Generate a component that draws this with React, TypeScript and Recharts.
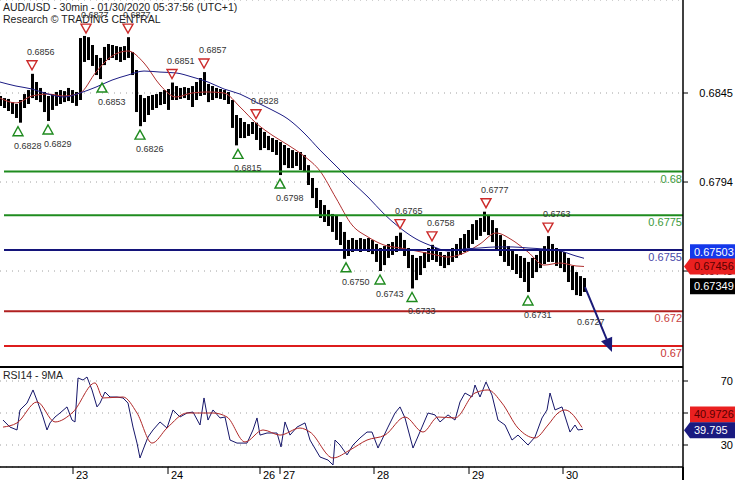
import React from 'react';
import {
  ComposedChart,
  Bar,
  Line,
  XAxis,
  YAxis,
  CartesianGrid,
  ReferenceLine,
  ReferenceDot
} from 'recharts';

const FONT = '"Liberation Sans", Arial, sans-serif';

// AUD/USD 30min, one entry per pair of bars (bar index = 2 * position)
const barHighs = [
  0.68433, 0.68421, 0.68416, 0.68398, 0.68387, 0.6841, 0.68444, 0.68467,
  0.6856, 0.68513, 0.68479, 0.68456, 0.68433, 0.68444, 0.68456, 0.68467,
  0.68461, 0.68479, 0.68467, 0.68456, 0.68765, 0.68777, 0.6877, 0.68725,
  0.68668, 0.68651, 0.68714, 0.68731, 0.68725, 0.68719, 0.68714, 0.68719,
  0.6877, 0.68685, 0.68582, 0.68439, 0.68421, 0.68433, 0.68439, 0.68444,
  0.68456, 0.68467, 0.68473, 0.6851, 0.6849, 0.68479, 0.68484, 0.68479,
  0.6849, 0.68513, 0.68536, 0.6857, 0.68502, 0.6849, 0.68479, 0.68473,
  0.68467, 0.68456, 0.6841, 0.68324, 0.68307, 0.68284, 0.68272, 0.68284,
  0.6828, 0.6825, 0.68227, 0.68204, 0.68192, 0.68181, 0.68169, 0.68152,
  0.68135, 0.68123, 0.68112, 0.68112, 0.68095, 0.68037, 0.67963, 0.67906,
  0.67837, 0.67808, 0.6778, 0.67757, 0.67751, 0.67711, 0.67654, 0.67608,
  0.67619, 0.67608, 0.67619, 0.67613, 0.67619, 0.67608, 0.67585, 0.67562,
  0.67573, 0.67585, 0.67596, 0.67631, 0.6765, 0.67608, 0.67562, 0.67522,
  0.67505, 0.67516, 0.67539, 0.67562, 0.6758, 0.67562, 0.67539, 0.67522,
  0.67539, 0.67562, 0.67585, 0.67619, 0.67642, 0.67665, 0.67699, 0.67722,
  0.67734, 0.6777, 0.67751, 0.67722, 0.67676, 0.67636, 0.67608, 0.67573,
  0.6755, 0.67527, 0.67516, 0.67505, 0.67482, 0.67505, 0.67522, 0.6755,
  0.67573, 0.6763, 0.67585, 0.67562, 0.6755, 0.67539, 0.67505, 0.67459,
  0.67424, 0.67401, 0.6739
];

const barLows = [
  0.68376, 0.68364, 0.68347, 0.6833, 0.68307, 0.6828, 0.68364, 0.68387,
  0.68421, 0.6841, 0.68398, 0.68341, 0.6829, 0.68353, 0.68376, 0.68387,
  0.68398, 0.68404, 0.68393, 0.68376, 0.6841, 0.68628, 0.68639, 0.68605,
  0.68553, 0.6853, 0.6861, 0.68639, 0.68651, 0.68639, 0.68628, 0.68639,
  0.68651, 0.68553, 0.68341, 0.6826, 0.68284, 0.68324, 0.68353, 0.68364,
  0.68381, 0.68387, 0.68353, 0.6841, 0.6841, 0.68416, 0.68421, 0.6841,
  0.6837, 0.6841, 0.68433, 0.68439, 0.68398, 0.6841, 0.68421, 0.68416,
  0.6841, 0.68387, 0.6825, 0.6815, 0.68192, 0.68192, 0.68204, 0.68215,
  0.68181, 0.68123, 0.68135, 0.68123, 0.68112, 0.68095, 0.6798, 0.68037,
  0.6802, 0.6802, 0.68032, 0.68009, 0.67997, 0.67923, 0.67848, 0.67791,
  0.67734, 0.67711, 0.67688, 0.67654, 0.67608, 0.67579, 0.675, 0.67516,
  0.67539, 0.6755, 0.67539, 0.6755, 0.67539, 0.67527, 0.67482, 0.6743,
  0.67464, 0.67505, 0.67522, 0.67539, 0.6755, 0.67516, 0.67447, 0.6733,
  0.67378, 0.67407, 0.67447, 0.67482, 0.67493, 0.67482, 0.67459, 0.67447,
  0.67464, 0.67482, 0.67505, 0.67522, 0.67539, 0.67562, 0.67585, 0.67608,
  0.67631, 0.67654, 0.67636, 0.67596, 0.6755, 0.67516, 0.67482, 0.67459,
  0.67436, 0.67413, 0.6739, 0.67367, 0.6731, 0.6739, 0.67424, 0.67447,
  0.6747, 0.67482, 0.67482, 0.67459, 0.67447, 0.67424, 0.67367, 0.67321,
  0.67292, 0.67287, 0.6731
];

// moving averages: [bar index, price]
const fastMA: [number, number][] = [
  [0, 0.68421], [8, 0.68393], [16, 0.68433], [24, 0.68444], [32, 0.68433],
  [40, 0.6845], [48, 0.6857], [56, 0.68662], [64, 0.68691], [72, 0.68622],
  [80, 0.68496], [88, 0.68427], [96, 0.6845], [104, 0.68456], [112, 0.6845],
  [120, 0.6837], [128, 0.68278], [136, 0.68209], [144, 0.68152], [152, 0.68089],
  [160, 0.68003], [168, 0.67848], [176, 0.67694], [184, 0.67625], [192, 0.67579],
  [200, 0.67562], [208, 0.67545], [216, 0.67527], [224, 0.6751], [232, 0.67533],
  [240, 0.67585], [248, 0.67648], [256, 0.67608], [264, 0.67539], [272, 0.67464],
  [280, 0.67476], [288, 0.67459], [292, 0.67456]
];

const slowMA: [number, number][] = [
  [0, 0.68513], [8, 0.6849], [16, 0.68473], [24, 0.68444], [32, 0.68427],
  [40, 0.6845], [48, 0.68484], [56, 0.68524], [64, 0.68553], [72, 0.68576],
  [80, 0.6857], [88, 0.68565], [96, 0.68542], [104, 0.68513], [112, 0.68473],
  [120, 0.68444], [128, 0.68398], [136, 0.68353], [144, 0.68301], [152, 0.68221],
  [160, 0.68123], [168, 0.68032], [176, 0.6794], [184, 0.67854], [192, 0.67757],
  [200, 0.67677], [208, 0.67614], [216, 0.67573], [224, 0.67545], [232, 0.67556],
  [240, 0.67562], [248, 0.67568], [256, 0.67568], [264, 0.67562], [272, 0.67556],
  [280, 0.67545], [288, 0.67516], [292, 0.67503]
];

const swingHighs: [number, number][] = [
  [16, 0.6856], [43, 0.6877], [64, 0.6877], [86, 0.6851], [102, 0.6857],
  [128, 0.6828], [200, 0.6765], [216, 0.6758], [243, 0.6777], [274, 0.6763]
];
const swingLows: [number, number][] = [
  [9, 0.6828], [24, 0.6829], [51, 0.6853], [70, 0.6826], [119, 0.6815],
  [140, 0.6798], [173, 0.675], [190, 0.6743], [206, 0.6733], [264, 0.6731]
];
const targetLow: [number, number] = [290.5, 0.6727];
const forecast: [number, number][] = [[292.5, 0.67338], [306, 0.66966]];

const levelPrices = [0.68, 0.6775, 0.6755, 0.672, 0.67];
const levelLabels = ['0.68', '0.6775', '0.6755', '0.672', '0.67'];

const priceTicks = [0.6743, 0.6794, 0.6845];
const lastQuotes = [0.67503, 0.67456, 0.67349];

const dayTicks = [36.5, 84, 130, 140, 187, 234.5, 281.5];
const dayLabels = ['23', '24', '26', '27', '28', '29', '30'];

// RSI(14) and its 9-period average: [bar index, value]
const rsiLine: [number, number][] = [
  [1.5, 45.6], [5, 41.2], [8.5, 39.4], [10, 51.9], [13.5, 56.2], [16.5, 64.4],
  [19, 56.2], [21.5, 47.5], [23.5, 39.4], [25, 43.8], [27.5, 47.5], [30, 50],
  [33.5, 53.8], [36, 45.6], [37.5, 44.4], [39, 71.9], [41.5, 70.6], [43.5, 72.5],
  [46, 64.4], [48.5, 53.8], [50, 56.2], [52.5, 63.1], [55, 60], [58.5, 60],
  [61.5, 59.4], [64, 56.2], [66.5, 41.2], [68.5, 31.2], [70, 21.9], [71.5, 26.9],
  [74, 35], [76.5, 39.4], [80, 44.4], [83.5, 40.6], [86.5, 51.9], [90, 47.5],
  [93.5, 50], [96.5, 50.6], [100, 42.5], [102, 59.4], [104, 45.6], [106.5, 51.9],
  [110, 46.9], [112.5, 47.5], [115, 33.1], [118.5, 31.2], [123.5, 31.2], [126.5, 39.4],
  [128.5, 46.9], [130, 36.2], [133.5, 37.5], [138.5, 37.5], [140.5, 28.8], [142.5, 44.4],
  [145, 36.2], [148.5, 41.2], [152.5, 43.8], [155, 33.1], [160, 22.5], [164, 20.6],
  [166.5, 17.5], [167.5, 33.1], [170, 30], [173.5, 23.8], [176.5, 30], [180, 34.4],
  [183.5, 38.1], [186, 38.1], [189, 28.1], [194, 41.2], [197.5, 50], [200, 53.8],
  [202.5, 46.9], [206.5, 28.1], [211, 41.2], [214, 50], [217.5, 48.8], [220, 44.4],
  [224, 48.8], [227.5, 45.6], [230, 56.9], [232.5, 62.5], [236, 60], [237.5, 67.5],
  [240, 60], [243, 69.4], [246, 61.2], [249, 45.6], [252.5, 42.5], [256, 33.1],
  [259, 36.2], [262.5, 31.9], [264, 30], [267.5, 35], [271, 46.9], [273.5, 51.9],
  [275, 62.5], [277.5, 51.9], [281, 53.8], [285, 38.1], [287.5, 42.5], [289, 39.4],
  [291.5, 39.8]
];

const rsiAvg: [number, number][] = [
  [1.5, 41.2], [8.5, 43.8], [18.5, 56.9], [27.5, 44.4], [36.5, 50.6], [47.5, 68.8],
  [51.5, 59.4], [61.5, 60], [68.5, 50], [76, 31.2], [83.5, 40.6], [93.5, 50],
  [106.5, 50], [113.5, 47.5], [122.5, 31.9], [131.5, 39.4], [140, 36.2], [150, 40.6],
  [155, 38.1], [166.5, 21.9], [175, 26.9], [183.5, 33.1], [192.5, 36.2], [202.5, 47.5],
  [211.5, 38.1], [219, 47.5], [227.5, 46.9], [237.5, 62.5], [244, 64.4], [251, 56.2],
  [259, 40.6], [267.5, 34.4], [274, 42.5], [279, 50], [282.5, 51.9], [291, 41]
];
const rsiLast = [40.9726, 39.795];

const LEVEL_LINE = ['#1f8c1f', '#1f8c1f', '#14147a', '#b02020', '#dd1c1c'];
const LEVEL_TEXT = ['#3c9a3c', '#3c9a3c', '#4848a8', '#c84040', '#c83434'];

const priceRows = barHighs.map((h, k) => {
  const i = k * 2;
  const f = fastMA.find((p) => p[0] === i);
  const s = slowMA.find((p) => p[0] === i);
  return { i, range: [barLows[k], h], fast: f ? f[1] : null, slow: s ? s[1] : null };
});

const rsiRows = (() => {
  const map = new Map<number, { i: number; rsi: number | null; avg: number | null }>();
  rsiLine.forEach(([i, v]) => map.set(i, { i, rsi: v, avg: null }));
  rsiAvg.forEach(([i, v]) => {
    const r = map.get(i);
    if (r) r.avg = v;
    else map.set(i, { i, rsi: null, avg: v });
  });
  return Array.from(map.values()).sort((a, b) => a.i - b.i);
})();

const X_DOMAIN: [number, number] = [0, 341.5];
const PRICE_DOMAIN: [number, number] = [0.6688, 0.68983];
const RSI_DOMAIN: [number, number] = [16.25, 78.75];

function levelShape(k: number) {
  return (p: any) => (
    <g>
      <line x1={p.x1} y1={p.y1} x2={p.x2} y2={p.y2} stroke={LEVEL_LINE[k]} strokeWidth={2} />
      <text x={p.x2 - 1} y={p.y1 + 11} textAnchor="end" fontSize={11} fontFamily={FONT} fill={LEVEL_TEXT[k]}>
        {levelLabels[k]}
      </text>
    </g>
  );
}

const arrowShape = (p: any) => {
  const dx = p.x2 - p.x1;
  const dy = p.y2 - p.y1;
  const len = Math.hypot(dx, dy) || 1;
  const ux = dx / len;
  const uy = dy / len;
  const bx = p.x2 - ux * 14;
  const by = p.y2 - uy * 14;
  return (
    <g>
      <line x1={p.x1} y1={p.y1} x2={bx} y2={by} stroke="#1a1a78" strokeWidth={2} />
      <polygon
        points={`${p.x2},${p.y2} ${bx - uy * 6},${by + ux * 6} ${bx + uy * 6},${by - ux * 6}`}
        fill="#1a1a78"
      />
    </g>
  );
};

// value tags sitting on the right-hand axis
function tagShape(text: string, bg: string, fg: string, shift: number, pointed: boolean) {
  return (p: any) => {
    const xr = Math.max(p.x1, p.x2);
    const y = p.y1 + shift;
    const x0 = xr + 7;
    const x1 = xr + 52;
    const d = pointed
      ? `M${xr + 1},${y} L${x0},${y - 8} L${x1},${y - 8} L${x1},${y + 8} L${x0},${y + 8} Z`
      : `M${x0},${y - 8} H${x1} V${y + 8} H${x0} Z`;
    return (
      <g>
        <path d={d} fill={bg} />
        <text x={x0 + 4} y={y + 4} fontSize={11} fontFamily={FONT} fill={fg}>
          {text}
        </text>
      </g>
    );
  };
}

function highMark(price: number) {
  return (p: any) => (
    <g>
      <polygon
        points={`${p.cx - 5},${p.cy - 13} ${p.cx + 5},${p.cy - 13} ${p.cx},${p.cy - 4}`}
        fill="none"
        stroke="#cc2a2a"
        strokeWidth={1.4}
      />
      <text x={p.cx - 5} y={p.cy - 19} fontSize={9} fontFamily={FONT} fill="#333">
        {price.toFixed(4)}
      </text>
    </g>
  );
}

function lowMark(price: number, withTriangle: boolean) {
  return (p: any) => (
    <g>
      {withTriangle && (
        <polygon
          points={`${p.cx},${p.cy + 4} ${p.cx - 5},${p.cy + 13} ${p.cx + 5},${p.cy + 13}`}
          fill="none"
          stroke="#1e8a1e"
          strokeWidth={1.4}
        />
      )}
      <text x={p.cx - 4} y={p.cy + 26} fontSize={9} fontFamily={FONT} fill="#333">
        {price.toFixed(4)}
      </text>
    </g>
  );
}

const PriceTick = ({ x, y, payload }: any) => (
  <text x={x + 35} y={y + 4} textAnchor="end" fontSize={11} fontFamily={FONT} fill="#000">
    {Number(payload.value).toFixed(4)}
  </text>
);

const RsiTick = ({ x, y, payload }: any) =>
  payload.value === 50 ? (
    <g />
  ) : (
    <text x={x + 35} y={y + 4} textAnchor="end" fontSize={11} fontFamily={FONT} fill="#000">
      {payload.value}
    </text>
  );

const DayTick = ({ x, y, payload }: any) => (
  <text x={x + 3} y={y + 5} fontSize={11} fontFamily={FONT} fill="#000">
    {dayLabels[dayTicks.indexOf(payload.value)]}
  </text>
);

const layer: React.CSSProperties = { position: 'absolute', left: 0 };

export default function App() {
  return (
    <div style={{ position: 'absolute', left: 0, top: 0, width: 735, height: 480, background: '#fff', overflow: 'hidden' }}>
      <div style={{ ...layer, top: 0 }}>
        <ComposedChart width={735} height={367} data={priceRows} margin={{ top: 0, right: 0, bottom: 0, left: 0 }}>
          <CartesianGrid vertical={false} stroke="#a0a0a0" strokeDasharray="1 5" />
          <XAxis dataKey="i" type="number" domain={X_DOMAIN} allowDataOverflow hide />
          <YAxis
            orientation="right"
            width={52}
            type="number"
            domain={PRICE_DOMAIN}
            allowDataOverflow
            ticks={priceTicks}
            tick={<PriceTick />}
            tickSize={5}
            tickMargin={10}
            axisLine={{ stroke: '#000', strokeWidth: 1.5 }}
            tickLine={{ stroke: '#000' }}
          />
          <Bar dataKey="range" fill="#000" barSize={3} isAnimationActive={false} />
          <Line dataKey="fast" stroke="#b03030" strokeWidth={1} dot={false} activeDot={false} connectNulls type="monotone" isAnimationActive={false} />
          <Line dataKey="slow" stroke="#1c1c84" strokeWidth={1} dot={false} activeDot={false} connectNulls type="monotone" isAnimationActive={false} />
          {levelPrices.map((lv, k) => (
            <ReferenceLine
              key={'lv' + k}
              segment={[{ x: 2, y: lv }, { x: X_DOMAIN[1], y: lv }]}
              shape={levelShape(k)}
            />
          ))}
          {swingHighs.map(([i, v]) => (
            <ReferenceDot key={'h' + i} x={i} y={v} ifOverflow="visible" shape={highMark(v)} />
          ))}
          {swingLows.map(([i, v]) => (
            <ReferenceDot key={'l' + i} x={i} y={v} ifOverflow="visible" shape={lowMark(v, true)} />
          ))}
          <ReferenceDot x={targetLow[0]} y={targetLow[1]} ifOverflow="visible" shape={lowMark(targetLow[1], false)} />
          <ReferenceLine
            segment={[{ x: forecast[0][0], y: forecast[0][1] }, { x: forecast[1][0], y: forecast[1][1] }]}
            shape={arrowShape}
          />
        </ComposedChart>
      </div>

      {/* last-value tags, drawn over the price axis labels */}
      <div style={{ ...layer, top: 0 }}>
        <ComposedChart width={735} height={367} data={priceRows} margin={{ top: 0, right: 52, bottom: 0, left: 0 }}>
          <XAxis dataKey="i" type="number" domain={X_DOMAIN} allowDataOverflow hide />
          <YAxis type="number" domain={PRICE_DOMAIN} allowDataOverflow hide />
          <ReferenceLine y={lastQuotes[0]} ifOverflow="visible" shape={tagShape(lastQuotes[0].toFixed(5), '#1438ea', '#fff', -6, false)} />
          <ReferenceLine y={lastQuotes[1]} ifOverflow="visible" shape={tagShape(lastQuotes[1].toFixed(5), '#ea2020', '#5a0000', 0, true)} />
          <ReferenceLine y={lastQuotes[2]} ifOverflow="visible" shape={tagShape(lastQuotes[2].toFixed(5), '#000', '#fff', 1, false)} />
        </ComposedChart>
      </div>

      <div style={{ ...layer, top: 367 }}>
        <ComposedChart width={735} height={113} data={rsiRows} margin={{ top: 0, right: 0, bottom: 0, left: 0 }}>
          <CartesianGrid vertical={false} stroke="#a0a0a0" strokeDasharray="1 5" />
          <XAxis
            dataKey="i"
            type="number"
            domain={X_DOMAIN}
            allowDataOverflow
            ticks={dayTicks}
            interval={0}
            height={13}
            tick={<DayTick />}
            tickSize={7}
            tickMargin={0}
            axisLine={{ stroke: '#000', strokeWidth: 1.5 }}
            tickLine={{ stroke: '#000' }}
          />
          <YAxis
            orientation="right"
            width={52}
            type="number"
            domain={RSI_DOMAIN}
            allowDataOverflow
            ticks={[30, 50, 70]}
            tick={<RsiTick />}
            tickSize={5}
            tickMargin={10}
            axisLine={{ stroke: '#000', strokeWidth: 1.5 }}
            tickLine={{ stroke: '#000' }}
          />
          <Line dataKey="rsi" stroke="#16166a" strokeWidth={1} dot={false} activeDot={false} connectNulls isAnimationActive={false} />
          <Line dataKey="avg" stroke="#b02828" strokeWidth={1} dot={false} activeDot={false} connectNulls type="monotone" isAnimationActive={false} />
        </ComposedChart>
      </div>

      <div style={{ ...layer, top: 367 }}>
        <ComposedChart width={735} height={113} data={rsiRows} margin={{ top: 0, right: 52, bottom: 13, left: 0 }}>
          <XAxis dataKey="i" type="number" domain={X_DOMAIN} allowDataOverflow hide />
          <YAxis type="number" domain={RSI_DOMAIN} allowDataOverflow hide />
          <ReferenceLine y={rsiLast[0]} ifOverflow="visible" shape={tagShape(String(rsiLast[0]), '#ea2020', '#5a0000', -13, false)} />
          <ReferenceLine y={rsiLast[1]} ifOverflow="visible" shape={tagShape(String(rsiLast[1]), '#1a1a80', '#fff', 1, true)} />
        </ComposedChart>
      </div>

      <div style={{ ...layer, top: 366, width: 683, height: 1.5, background: '#000' }} />
      <div style={{ position: 'absolute', left: 682, top: 467, width: 1.5, height: 13, background: '#000' }} />
      <div style={{ ...layer, left: 3, top: 1, fontFamily: FONT, fontSize: 10.5, lineHeight: '12px', color: '#222' }}>
        <div>AUD/USD - 30min - 01/30/2020 05:37:56 (UTC+1)</div>
        <div>Research © TRADING CENTRAL</div>
      </div>
      <div style={{ ...layer, left: 3, top: 369, fontFamily: FONT, fontSize: 10.5, lineHeight: '12px', color: '#222' }}>
        RSI14 - 9MA
      </div>
    </div>
  );
}
